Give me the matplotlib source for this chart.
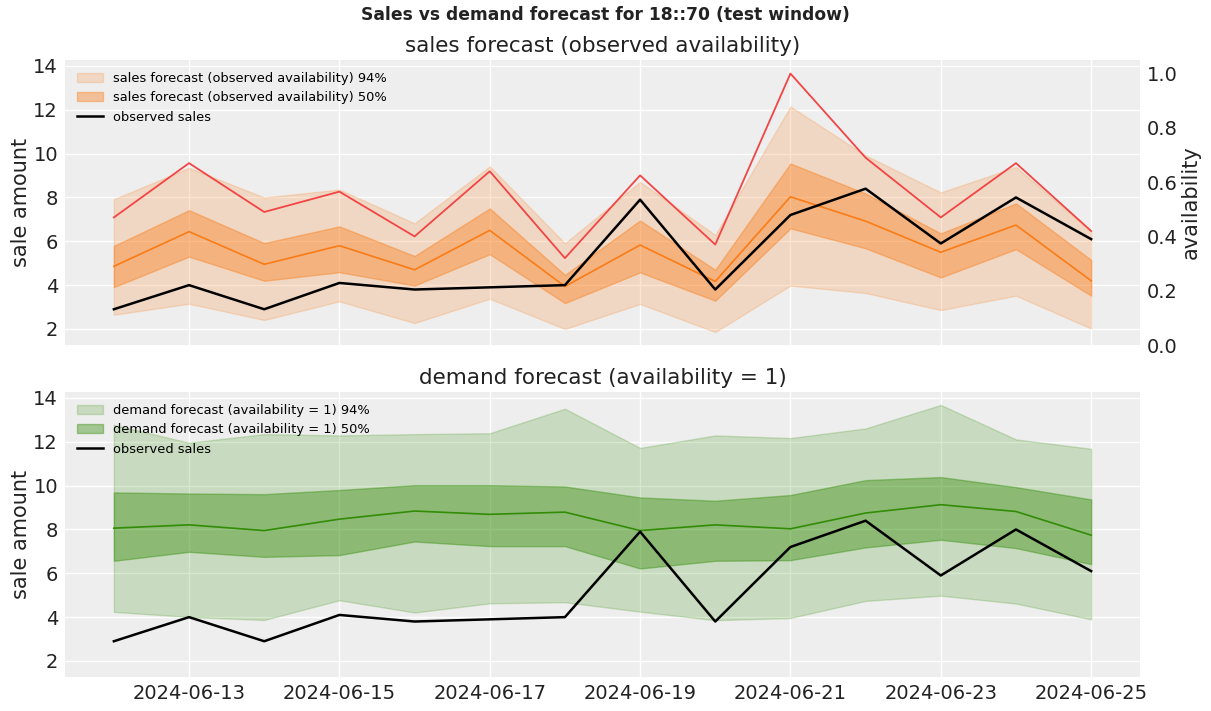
import matplotlib
matplotlib.use("Agg")
import matplotlib.pyplot as plt
import matplotlib.dates as mdates
import pandas as pd

# Test window dates
dates = pd.date_range("2024-06-12", "2024-06-25", freq="D")

# Observed sales
observed_sales = [2.9, 4.0, 2.9, 4.1, 3.8, 3.9, 4.0, 7.9, 3.8, 7.2, 8.4, 5.9, 8.0, 6.1]

# Observed availability (right axis of top panel)
availability = [0.47, 0.67, 0.49, 0.565, 0.40, 0.64, 0.32, 0.625, 0.37, 1.0, 0.69, 0.47, 0.67, 0.42]

# Sales forecast (observed availability)
sales_median = [4.86, 6.44, 4.95, 5.80, 4.70, 6.50, 3.94, 5.83, 4.17, 8.03, 6.92, 5.50, 6.74, 4.20]
sales_50_lo = [3.91, 5.30, 4.20, 4.59, 3.98, 5.41, 3.18, 4.58, 3.29, 6.59, 5.68, 4.35, 5.64, 3.52]
sales_50_hi = [5.79, 7.42, 5.92, 6.68, 5.33, 7.50, 4.47, 6.95, 4.70, 9.55, 8.18, 6.36, 7.73, 5.15]
sales_94_lo = [2.65, 3.15, 2.41, 3.26, 2.27, 3.38, 2.00, 3.14, 1.86, 3.98, 3.64, 2.86, 3.52, 2.02]
sales_94_hi = [7.92, 9.35, 8.00, 8.36, 6.82, 9.42, 5.91, 8.71, 6.29, 12.15, 9.92, 8.23, 9.39, 6.45]

# Demand forecast (availability = 1)
demand_median = [8.06, 8.21, 7.95, 8.47, 8.84, 8.69, 8.79, 7.95, 8.21, 8.03, 8.75, 9.13, 8.82, 7.74]
demand_50_lo = [6.57, 6.98, 6.75, 6.83, 7.45, 7.24, 7.24, 6.22, 6.57, 6.60, 7.18, 7.53, 7.15, 6.42]
demand_50_hi = [9.69, 9.64, 9.61, 9.80, 10.02, 10.02, 9.96, 9.46, 9.31, 9.57, 10.25, 10.39, 9.93, 9.37]
demand_94_lo = [4.24, 4.01, 3.87, 4.77, 4.21, 4.63, 4.68, 4.25, 3.86, 3.96, 4.74, 4.98, 4.62, 3.90]
demand_94_hi = [12.77, 11.96, 12.35, 12.29, 12.35, 12.39, 13.51, 11.72, 12.29, 12.17, 12.61, 13.68, 12.11, 11.68]

orange = "#fa7c17"
green = "#328c06"

plt.rcParams["font.family"] = ["DejaVu Sans"]

fig = plt.figure(figsize=(12.11, 7.11), dpi=100)
ax1 = fig.add_axes([65 / 1211, 1 - 345 / 711, 1075 / 1211, 285 / 711])
ax2 = fig.add_axes([65 / 1211, 1 - 677 / 711, 1075 / 1211, 285 / 711], sharex=ax1, sharey=ax1)

for ax in (ax1, ax2):
    ax.set_facecolor("#eeeeee")
    ax.grid(True, color="white", linewidth=1)
    ax.set_axisbelow(True)
    for s in ax.spines.values():
        s.set_visible(False)
    ax.tick_params(length=0, labelsize=14, colors="#222222", pad=5)

# Top panel: sales forecast
ax1.fill_between(dates, sales_94_lo, sales_94_hi, color=orange, alpha=0.2,
                 label="sales forecast (observed availability) 94%")
ax1.fill_between(dates, sales_50_lo, sales_50_hi, color=orange, alpha=0.4,
                 label="sales forecast (observed availability) 50%")
ax1.plot(dates, sales_median, color=orange, linewidth=1.2)
ax1.plot(dates, observed_sales, color="black", linewidth=1.8, label="observed sales")
ax1.set_title("sales forecast (observed availability)", fontsize=15.5, color="#222222")
ax1.set_ylabel("sale amount", fontsize=15, color="#222222", labelpad=2)
ax1.legend(loc="upper left", frameon=False, fontsize=9.4)
plt.setp(ax1.get_xticklabels(), visible=False)

ax1b = ax1.twinx()
ax1b.plot(dates, availability, color="#f24545", linewidth=1.3)
ax1b.set_ylim(0, 1.05)
ax1b.grid(False)
for s in ax1b.spines.values():
    s.set_visible(False)
ax1b.tick_params(length=0, labelsize=14, colors="#222222", pad=5)
ax1b.set_ylabel("availability", fontsize=15, color="#222222", labelpad=2)

# Bottom panel: demand forecast
ax2.fill_between(dates, demand_94_lo, demand_94_hi, color=green, alpha=0.2,
                 label="demand forecast (availability = 1) 94%")
ax2.fill_between(dates, demand_50_lo, demand_50_hi, color=green, alpha=0.4,
                 label="demand forecast (availability = 1) 50%")
ax2.plot(dates, demand_median, color=green, linewidth=1.2)
ax2.plot(dates, observed_sales, color="black", linewidth=1.8, label="observed sales")
ax2.set_title("demand forecast (availability = 1)", fontsize=15.5, color="#222222")
ax2.set_ylabel("sale amount", fontsize=15, color="#222222", labelpad=2)
ax2.legend(loc="upper left", frameon=False, fontsize=9.4)

ax2.xaxis.set_major_locator(mdates.DayLocator(interval=2, bymonthday=range(13, 32, 2)))
ax2.xaxis.set_major_formatter(mdates.DateFormatter("%Y-%m-%d"))
ax1.set_yticks([2, 4, 6, 8, 10, 12, 14])

fig.suptitle("Sales vs demand forecast for 18::70 (test window)", fontsize=12.3,
             fontweight="bold", color="#222222", y=0.992)

fig.savefig("out.png", dpi=100)
